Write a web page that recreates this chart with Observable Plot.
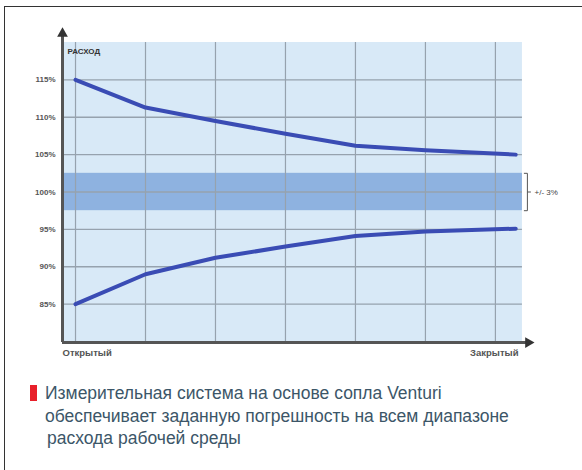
<!DOCTYPE html>
<html><head><meta charset="utf-8">
<script src="https://cdn.jsdelivr.net/npm/d3@7"></script>
<script src="https://cdn.jsdelivr.net/npm/@observablehq/plot@0.6"></script>
<style>
html,body{margin:0;padding:0;background:#fff;width:582px;height:470px;overflow:hidden;}
#frame{position:absolute;left:4px;top:6px;width:600px;height:500px;border-left:1.5px solid #333;border-top:1.5px solid #333;}
#chart{position:absolute;left:0;top:0;}
#cap{position:absolute;left:45px;top:382px;font-family:"Liberation Sans",Arial,sans-serif;font-size:17.5px;line-height:22.5px;color:#3c5668;}
#mark{position:absolute;left:30px;top:385px;width:7px;height:16px;background:#e8202a;}
</style></head>
<body>
<div id="frame"></div>
<div id="chart"></div>
<div id="mark"></div>
<div id="cap">Измерительная система на основе сопла Venturi<br>обеспечивает заданную погрешность на всем диапазоне<br><span style="margin-left:2px">расхода рабочей среды</span></div>
<script>
const yLabel = "РАСХОД";
const xLabels = ["Открытый", "Закрытый"];
const bandLabel = "+/- 3%";
const yTicks = [85, 90, 95, 100, 105, 110, 115];
const xGrid = [0, 1, 2, 3, 4, 5, 6];
const xPos = [0, 1, 2, 3, 4, 5, 6.29];
const upper = [115, 111.3, 109.5, 107.8, 106.2, 105.6, 105.0];
const lower = [85, 89.0, 91.2, 92.7, 94.1, 94.7, 95.1];
const band = [97.5, 102.5];
const yDomain = [80, 120];
const xDomain = [-0.186, 6.53];
const bgEnd = 6.386;

const series = [
  ...xPos.map((x, i) => ({x, y: upper[i], s: "upper"})),
  ...xPos.map((x, i) => ({x, y: lower[i], s: "lower"}))
];
const grid = "#96a2ae";
const axisC = "#555";
const x0 = xDomain[0];
const bx = 6.457;

const chart = Plot.plot({
  width: 582, height: 370,
  marginLeft: 62, marginRight: 50, marginTop: 42, marginBottom: 29,
  x: {domain: xDomain, axis: null},
  y: {domain: yDomain, axis: null},
  style: {background: "transparent", fontFamily: "Liberation Sans, Arial, sans-serif"},
  marks: [
    Plot.rect([{a: x0, b: bgEnd, c: yDomain[0], d: yDomain[1]}], {x1: "a", x2: "b", y1: "c", y2: "d", fill: "#d8e9f7"}),
    Plot.rect([{a: x0, b: bgEnd, c: band[0], d: band[1]}], {x1: "a", x2: "b", y1: "c", y2: "d", fill: "#8eb2e0"}),
    Plot.ruleY(yTicks, {x1: x0, x2: bgEnd, stroke: grid, strokeWidth: 1.4}),
    Plot.ruleX(xGrid, {y1: yDomain[0], y2: yDomain[1], stroke: grid, strokeWidth: 1.2}),
    Plot.line(series, {x: "x", y: "y", z: "s", stroke: "#3a4cb4", strokeWidth: 4, curve: "linear", strokeLinejoin: "round", strokeLinecap: "round"}),
    Plot.ruleX([x0], {y1: 79.85, y2: 121.2, stroke: axisC, strokeWidth: 3}),
    Plot.ruleY([79.85], {x1: x0, x2: 6.47, stroke: axisC, strokeWidth: 3}),
    Plot.dot([{x: x0, y: 121.2}], {x: "x", y: "y", symbol: "triangle", r: 4, fill: "#333", stroke: "none"}),
    Plot.dot([{x: 6.47, y: 79.85}], {x: "x", y: "y", symbol: "triangle", r: 4, fill: "#333", stroke: "none", rotate: 90}),
    Plot.text(yTicks, {x: x0, y: d => d, text: d => d + "%", textAnchor: "end", dx: -7, fontSize: 8, fontWeight: "bold", fill: "#555"}),
    Plot.text([yLabel], {frameAnchor: "top-left", dx: 5, dy: 6, textAnchor: "start", fontSize: 8, fontWeight: "bold", fill: "#333"}),
    Plot.text([xLabels[0]], {frameAnchor: "bottom-left", dy: 14, textAnchor: "start", fontSize: 9.5, fontWeight: "bold", fill: "#555"}),
    Plot.text([xLabels[1]], {frameAnchor: "bottom-right", dx: -14, dy: 14, textAnchor: "end", fontSize: 9.5, fontWeight: "bold", fill: "#555"}),
    Plot.link([
      {x1: bx, y1: band[0], x2: bx, y2: band[1]},
      {x1: bx - 0.05, y1: band[0], x2: bx, y2: band[0]},
      {x1: bx - 0.05, y1: band[1], x2: bx, y2: band[1]},
      {x1: bx, y1: (band[0] + band[1]) / 2, x2: bx + 0.05, y2: (band[0] + band[1]) / 2}
    ], {x1: "x1", y1: "y1", x2: "x2", y2: "y2", stroke: "#555", strokeWidth: 1}),
    Plot.text([bandLabel], {x: xDomain[1], y: (band[0] + band[1]) / 2, textAnchor: "start", dx: 2, fontSize: 8, fill: "#444"})
  ]
});
document.getElementById("chart").appendChild(chart);
</script>
</body></html>
